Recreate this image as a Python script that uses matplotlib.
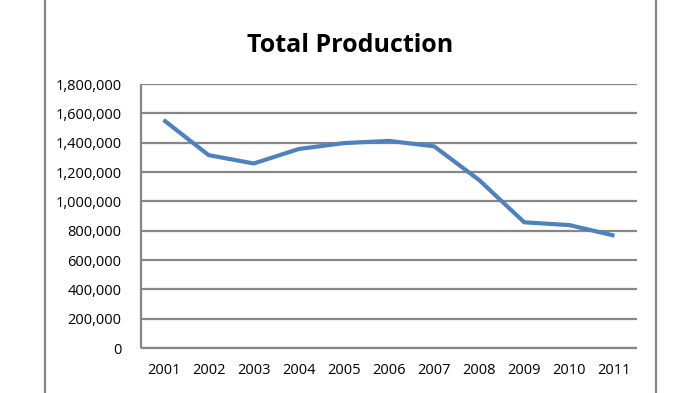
import matplotlib
matplotlib.use("Agg")
import matplotlib.pyplot as plt
from matplotlib.ticker import FuncFormatter
from matplotlib.lines import Line2D

years = ["2001", "2002", "2003", "2004", "2005", "2006", "2007", "2008", "2009", "2010", "2011"]
production = [1555000, 1315000, 1258000, 1357000, 1397000, 1412000, 1375000, 1145000, 857000, 838000, 766000]
yticks = [0, 200000, 400000, 600000, 800000, 1000000, 1200000, 1400000, 1600000, 1800000]

plt.rcParams['font.family'] = ['Open Sans', 'DejaVu Sans']

fig = plt.figure(figsize=(7, 3.93), dpi=100)
ax = fig.add_axes([141/700, 1-348/393, (637-141)/700, (348-84)/393])

x = list(range(len(years)))
ax.plot(x, production, color="#4F81BD", lw=3.0, solid_capstyle="butt", solid_joinstyle="round", zorder=3)

ax.set_xlim(-0.5, len(years) - 0.5)
ax.set_ylim(0, 1800000)
ax.set_yticks(yticks)
ax.yaxis.set_major_formatter(FuncFormatter(lambda v, p: f"{int(v):,}"))
ax.set_xticks(x)
ax.set_xticklabels(years)
ax.tick_params(axis="both", length=0, labelsize=10.5, colors="#000000")
ax.tick_params(axis="y", pad=14)
ax.tick_params(axis="x", pad=11)
ax.grid(axis="y", color="#868686", lw=1.6)
ax.set_axisbelow(True)
for s in ["top", "right"]:
    ax.spines[s].set_visible(False)
for s in ["left", "bottom"]:
    ax.spines[s].set_color("#868686")
    ax.spines[s].set_linewidth(1.6)
    ax.spines[s].set_capstyle("butt")

fig.text(350/700, 1-46/393, "Total Production", ha="center", va="center",
         fontsize=18, fontweight="bold", color="#000000")

fig.add_artist(Line2D([45/700, 45/700], [0, 1], transform=fig.transFigure, color="#868686", lw=1.6))
fig.add_artist(Line2D([656/700, 656/700], [0, 1], transform=fig.transFigure, color="#868686", lw=1.6))

fig.savefig("out.png", dpi=100)
